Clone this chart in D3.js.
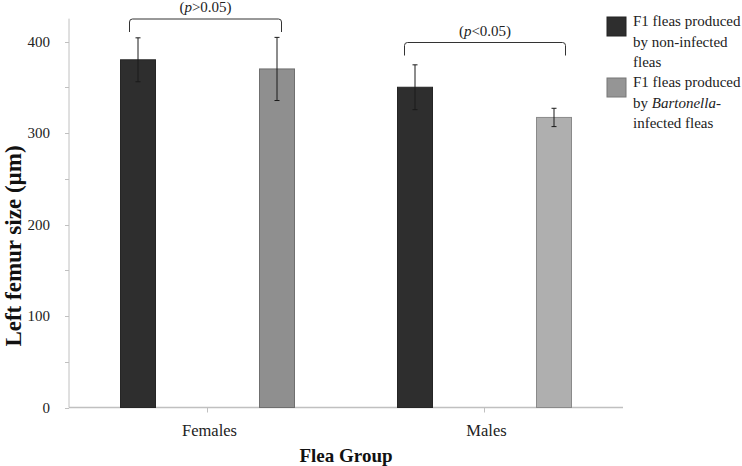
<!DOCTYPE html>
<html>
<head>
<meta charset="utf-8">
<script src="https://cdn.jsdelivr.net/npm/d3@7"></script>
<style>
  html, body { margin: 0; padding: 0; background: #fff; }
  svg { display: block; }
  svg text { font-family: "Liberation Serif", "Times New Roman", serif; }
</style>
</head>
<body>
<svg id="chart" width="742" height="466"></svg>
<script>
// ---- Data ----
const categories = ["Females", "Males"];
const seriesNames = ["F1 fleas produced by non-infected fleas", "F1 fleas produced by Bartonella-infected fleas"];
const nonInfected = [380, 350];
const nonInfectedErr = [24, 24.5];
const infected = [370, 317];
const infectedErr = [34.5, 10];
const yTicks = [0, 100, 200, 300, 400];
const pLabels = ["(p>0.05)", "(p<0.05)"];

// ---- Layout ----
const SERIF = "Liberation Serif";
const svg = d3.select("#chart");
const xLeft = 69, xRight = 623, yBottom = 407.5;
const x0 = d3.scaleBand().domain(categories).range([xLeft, xRight]).paddingInner(0).paddingOuter(0);
const bw = x0.bandwidth();
const barW = 35, offset = 69.5;
const x1 = d3.scaleBand().domain(seriesNames)
  .range([bw / 2 - offset - barW / 2, bw / 2 + offset + barW / 2])
  .paddingInner((2 * offset - barW) / (2 * offset));
const y = d3.scaleLinear().domain([0, 400]).range([yBottom, 41.5]);

const fills = ["#2e2e2e", ["#8f8f8f", "#afafaf"]];
const strokes = ["#262626", ["#6f6f6f", "#8a8a8a"]];
const axisColor = "#c0c0c0";

// ---- Axes ----
svg.append("line").attr("x1", xLeft).attr("x2", xLeft)
  .attr("y1", yBottom).attr("y2", y(425)).attr("stroke", axisColor).attr("stroke-width", 1);
d3.range(0, 401, 50).forEach(v => {
  svg.append("line").attr("x1", xLeft - 4).attr("x2", xLeft)
    .attr("y1", Math.round(y(v)) + 0.5).attr("y2", Math.round(y(v)) + 0.5)
    .attr("stroke", axisColor);
});
const yAxis = d3.axisLeft(y).tickValues(yTicks).tickSize(0).tickPadding(19);
const gy = svg.append("g").attr("transform", `translate(${xLeft},0)`).call(yAxis)
  .attr("font-family", SERIF);
gy.select(".domain").remove();
gy.selectAll("text").attr("font-size", 15).attr("fill", "#222").style("font-family", SERIF);

svg.append("line").attr("x1", xLeft).attr("x2", xRight)
  .attr("y1", yBottom).attr("y2", yBottom).attr("stroke", axisColor).attr("stroke-width", 1.5);
const xAxis = d3.axisBottom(x0).tickSize(5).tickPadding(12);
const gx = svg.append("g").attr("transform", `translate(0,${yBottom})`).call(xAxis)
  .attr("font-family", SERIF);
gx.select(".domain").remove();
gx.selectAll(".tick line").attr("stroke", axisColor);
gx.selectAll("text").attr("font-size", 16.5).attr("fill", "#222").style("font-family", SERIF)
  .attr("dx", 2);

// ---- Bars ----
const rows = categories.map((c, i) => ({
  cat: c, i,
  vals: [
    { s: seriesNames[0], v: nonInfected[i], e: nonInfectedErr[i], fill: fills[0], stroke: strokes[0] },
    { s: seriesNames[1], v: infected[i], e: infectedErr[i], fill: fills[1][i], stroke: strokes[1][i] }
  ]
}));

const groups = svg.append("g").selectAll("g").data(rows).join("g")
  .attr("transform", d => `translate(${x0(d.cat)},0)`);

groups.selectAll("rect").data(d => d.vals).join("rect")
  .attr("x", d => x1(d.s))
  .attr("y", d => y(d.v))
  .attr("width", x1.bandwidth())
  .attr("height", d => y(0) - y(d.v))
  .attr("fill", d => d.fill)
  .attr("stroke", d => d.stroke)
  .attr("stroke-width", 1);

const eb = groups.selectAll("g.err").data(d => d.vals).join("g").attr("class", "err");
eb.append("line")
  .attr("x1", d => x1(d.s) + x1.bandwidth() / 2).attr("x2", d => x1(d.s) + x1.bandwidth() / 2)
  .attr("y1", d => y(d.v + d.e)).attr("y2", d => y(d.v - d.e))
  .attr("stroke", "#1a1a1a").attr("stroke-width", 1);
[1, -1].forEach(sg => {
  eb.append("line")
    .attr("x1", d => x1(d.s) + x1.bandwidth() / 2 - 2.5).attr("x2", d => x1(d.s) + x1.bandwidth() / 2 + 2.5)
    .attr("y1", d => y(d.v + sg * d.e)).attr("y2", d => y(d.v + sg * d.e))
    .attr("stroke", "#1a1a1a").attr("stroke-width", 1);
});

// ---- Significance brackets ----
const bracketY = [19, 42.5];
const bracketInset = [[9, 13], [7, 6]];
const bracketDrop = 13;
rows.forEach((r, i) => {
  const xa = x0(r.cat) + x1(seriesNames[0]) + bracketInset[i][0];
  const xb = x0(r.cat) + x1(seriesNames[1]) + x1.bandwidth() - bracketInset[i][1];
  const by = bracketY[i];
  const rad = 3;
  svg.append("path")
    .attr("d", `M${xa},${by + bracketDrop} L${xa},${by + rad} Q${xa},${by} ${xa + rad},${by} L${xb - rad},${by} Q${xb},${by} ${xb},${by + rad} L${xb},${by + bracketDrop}`)
    .attr("fill", "none").attr("stroke", "#333").attr("stroke-width", 1);
  const t = svg.append("text")
    .attr("x", (xa + xb) / 2).attr("y", by - 7)
    .attr("text-anchor", "middle").attr("font-size", 15).attr("fill", "#222")
    .style("font-family", SERIF);
  const lab = pLabels[i];
  t.append("tspan").text("(");
  t.append("tspan").attr("font-style", "italic").text("p");
  t.append("tspan").text(lab.slice(2));
});

// ---- Axis titles ----
svg.append("text")
  .attr("transform", `translate(21,${246}) rotate(-90)`)
  .attr("text-anchor", "middle").attr("font-size", 23).attr("font-weight", "bold")
  .attr("fill", "#111").style("font-family", SERIF).text("Left femur size (µm)");
svg.append("text")
  .attr("x", 346).attr("y", 462)
  .attr("text-anchor", "middle").attr("font-size", 19).attr("font-weight", "bold")
  .attr("fill", "#111").style("font-family", SERIF).text("Flea Group");

// ---- Legend ----
const legend = svg.append("g");
const legendItems = [
  { fill: "#2e2e2e", stroke: "#222", y: 17, lines: [["F1 fleas produced"], ["by non-infected"], ["fleas"]] },
  { fill: "#959595", stroke: "#777", y: 78, lines: [["F1 fleas produced"], ["by ", ["Bartonella", true], "-"], ["infected fleas"]] }
];
legendItems.forEach((it) => {
  legend.append("rect").attr("x", 607).attr("y", it.y).attr("width", 19).attr("height", 19)
    .attr("fill", it.fill).attr("stroke", it.stroke).attr("stroke-width", 1);
  it.lines.forEach((ln, j) => {
    const t = legend.append("text").attr("x", 633).attr("y", it.y + 9 + j * 20.5)
      .attr("font-size", 15).attr("fill", "#222").style("font-family", SERIF);
    ln.forEach(part => {
      if (Array.isArray(part)) t.append("tspan").attr("font-style", "italic").text(part[0]);
      else t.append("tspan").text(part);
    });
  });
});
</script>
</body>
</html>
